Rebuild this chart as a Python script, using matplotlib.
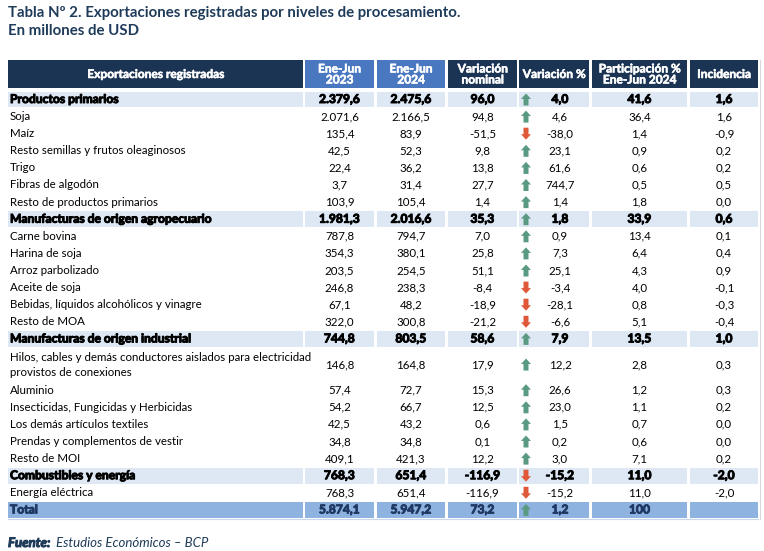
import matplotlib
matplotlib.use("Agg")
import matplotlib.pyplot as plt
import matplotlib.patheffects as pe
from matplotlib.patches import Rectangle, Polygon

# Table rows: label, Ene-Jun 2023, Ene-Jun 2024, variation, variation %, share %, incidence
labels = [
    "Productos primarios", "Soja", "Maíz", "Resto semillas y frutos oleaginosos",
    "Trigo", "Fibras de algodón", "Resto de productos primarios",
    "Manufacturas de origen agropecuario", "Carne bovina", "Harina de soja",
    "Arroz parbolizado", "Aceite de soja", "Bebidas, líquidos alcohólicos y vinagre",
    "Resto de MOA", "Manufacturas de origen industrial",
    "Hilos, cables y demás conductores aislados para electricidad\nprovistos de conexiones",
    "Aluminio", "Insecticidas, Fungicidas y Herbicidas", "Los demás artículos textiles",
    "Prendas y complementos de vestir", "Resto de MOI", "Combustibles y energía",
    "Energía eléctrica", "Total",
]
kind = ["sec", "", "", "", "", "", "", "sec", "", "", "", "", "", "", "sec",
        "", "", "", "", "", "", "sec", "", "total"]
v2023 = [2379.6, 2071.6, 135.4, 42.5, 22.4, 3.7, 103.9, 1981.3, 787.8, 354.3, 203.5,
         246.8, 67.1, 322.0, 744.8, 146.8, 57.4, 54.2, 42.5, 34.8, 409.1, 768.3, 768.3, 5874.1]
v2024 = [2475.6, 2166.5, 83.9, 52.3, 36.2, 31.4, 105.4, 2016.6, 794.7, 380.1, 254.5,
         238.3, 48.2, 300.8, 803.5, 164.8, 72.7, 66.7, 43.2, 34.8, 421.3, 651.4, 651.4, 5947.2]
var_nom = [96.0, 94.8, -51.5, 9.8, 13.8, 27.7, 1.4, 35.3, 7.0, 25.8, 51.1, -8.4, -18.9,
           -21.2, 58.6, 17.9, 15.3, 12.5, 0.6, 0.1, 12.2, -116.9, -116.9, 73.2]
var_pct = [4.0, 4.6, -38.0, 23.1, 61.6, 744.7, 1.4, 1.8, 0.9, 7.3, 25.1, -3.4, -28.1,
           -6.6, 7.9, 12.2, 26.6, 23.0, 1.5, 0.2, 3.0, -15.2, -15.2, 1.2]
part = [41.6, 36.4, 1.4, 0.9, 0.6, 0.5, 1.8, 33.9, 13.4, 6.4, 4.3, 4.0, 0.8, 5.1, 13.5,
        2.8, 1.2, 1.1, 0.7, 0.6, 7.1, 11.0, 11.0, 100]
incid = [1.6, 1.6, -0.9, 0.2, 0.2, 0.5, 0.0, 0.6, 0.1, 0.4, 0.9, -0.1, -0.3, -0.4, 1.0,
         0.3, 0.3, 0.2, 0.0, 0.0, 0.2, -2.0, -2.0, None]

headers = ["Exportaciones registradas", "Ene-Jun\n2023", "Ene-Jun\n2024", "Variación\nnominal",
           "Variación %", "Participación %\nEne-Jun 2024", "Incidencia"]


def fmt(v):
    if v is None:
        return ""
    if v == 100:
        return "100"
    s = f"{v:,.1f}"
    return s.replace(",", "X").replace(".", ",").replace("X", ".")


W, H = 764, 551
fig = plt.figure(figsize=(W / 100, H / 100), dpi=100)
ax = fig.add_axes([0, 0, 1, 1])
ax.set_xlim(0, W)
ax.set_ylim(H, 0)
ax.axis("off")

FONT = "Lato"
navy = "#1b3453"
mid_blue = "#4a78c0"
band = "#dde8f4"
total_band = "#8fb3e0"
title_col = "#1f3b5a"
up_col = "#5b9a82"
down_col = "#e0583a"


def heavy(color):
    # fake an extra-bold weight with a thin outline
    return [pe.withStroke(linewidth=0.7, foreground=color)]


col_edges = [(8, 303), (305, 374), (377, 445), (448, 517), (519, 589), (592, 687), (690, 758)]

# Title
ax.text(8, 13, "Tabla Nº 2. Exportaciones registradas por niveles de procesamiento.",
        fontsize=10.8, fontweight="bold", color=title_col, family=FONT, va="center")
ax.text(8, 31, "En millones de USD", fontsize=10.8, fontweight="bold", color=title_col,
        family=FONT, va="center")

# Header
h_top, h_bot = 60, 88
for i, (x0, x1) in enumerate(col_edges):
    fc = mid_blue if i in (1, 2) else navy
    ax.add_patch(Rectangle((x0, h_top), x1 - x0, h_bot - h_top, fc=fc, ec="none"))
    ax.text((x0 + x1) / 2, (h_top + h_bot) / 2 + 0.5, headers[i], ha="center", va="center",
            color="white", fontsize=8.6, fontweight="bold", family=FONT, linespacing=1.0,
            path_effects=[pe.withStroke(linewidth=0.4, foreground="white")])

# Body rows
pitch = 17.1
y_center0 = 99.5
unit = 0
for r, lab in enumerate(labels):
    span = 2 if "\n" in lab else 1
    yc = y_center0 + (unit + (span - 1) / 2) * pitch
    unit += span
    k = kind[r]
    strong = k in ("sec", "total")
    weight = "bold" if strong else "normal"
    tcol = "#1f3864" if k == "total" else "black"
    fsz = 8.7 if strong else 8.3
    eff = heavy(tcol) if strong else None
    if strong:
        fc = band if k == "sec" else total_band
        for x0, x1 in col_edges:
            ax.add_patch(Rectangle((x0, yc - 7.8), x1 - x0, 15.6, fc=fc, ec="none"))
    ax.text(10, yc, lab, ha="left", va="center", fontsize=fsz, fontweight=weight,
            color=tcol, family=FONT, linespacing=1.45, path_effects=eff)
    vals = [v2023[r], v2024[r], var_nom[r]]
    for j, v in enumerate(vals):
        x0, x1 = col_edges[j + 1]
        ax.text((x0 + x1) / 2, yc, fmt(v), ha="center", va="center", fontsize=fsz,
                fontweight=weight, color=tcol, family=FONT, path_effects=eff)
    ax.text(560, yc, fmt(var_pct[r]), ha="center", va="center", fontsize=fsz,
            fontweight=weight, color=tcol, family=FONT, path_effects=eff)
    for j, v in ((5, part[r]), (6, incid[r])):
        x0, x1 = col_edges[j]
        ax.text((x0 + x1) / 2, yc, fmt(v), ha="center", va="center", fontsize=fsz,
                fontweight=weight, color=tcol, family=FONT, path_effects=eff)

    # arrow from sign of variation
    ax_c = 526
    s = 1 if var_pct[r] >= 0 else -1
    tip = yc - s * 6
    neck = yc - s * 0.5
    base = yc + s * 6
    pts = [(ax_c, tip), (ax_c + 5, neck), (ax_c + 2.5, neck), (ax_c + 2.5, base),
           (ax_c - 2.5, base), (ax_c - 2.5, neck), (ax_c - 5, neck)]
    ax.add_patch(Polygon(pts, closed=True, fc=up_col if s > 0 else down_col, ec="none"))

# thin line under total and right edge
ax.plot([8, 758], [518.5, 518.5], color="#c9d7ea", lw=0.8)
ax.plot([760, 760], [60, 519], color="#d0d0d0", lw=0.6)

# Source
ax.text(8, 543, "Fuente:", fontsize=9.5, fontweight="bold", style="italic",
        color=title_col, family=FONT, va="center", path_effects=heavy(title_col))
ax.text(56, 543, "Estudios Económicos – BCP", fontsize=9.5, style="italic",
        color=title_col, family=FONT, va="center")

fig.savefig("out.png", dpi=100)
